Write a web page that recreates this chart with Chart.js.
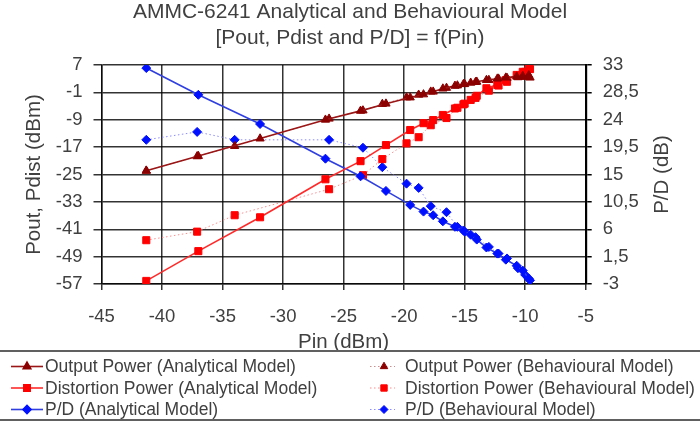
<!DOCTYPE html>
<html lang="en">
<head>
  <meta charset="UTF-8">
  <title>AMMC-6241 Analytical and Behavioural Model</title>
  <style>
    body { margin: 0; background: #fff; }
    #wrap { width: 700px; height: 422px; }
  </style>
  <script src="https://cdn.jsdelivr.net/npm/chart.js"></script>
</head>
<body>
  <div id="wrap"><canvas id="chart" width="700" height="422"></canvas></div>
  <script>
    // Pin (dBm) values of the analytical model points
    const pinAnalytical   = [-41.3, -37.0, -31.9, -26.5, -23.6, -21.5, -19.5, -18.4, -17.6, -16.8, -15.8, -15.1, -14.5, -14.0, -13.2, -12.3, -11.6, -10.7, -10.2, -9.7];
    const poutAnalytical  = [-23.9, -19.6, -14.5, -9.0, -6.4, -4.3, -2.5, -1.6, -0.8, 0.1, 0.9, 1.4, 1.8, 2.1, 2.6, 3.0, 3.3, 3.6, 3.8, 4.0];
    const pdistAnalytical = [-56.1, -47.4, -37.5, -26.4, -21.1, -16.4, -12.0, -10.0, -9.1, -7.6, -5.7, -4.5, -3.2, -2.0, 0.2, 1.2, 2.6, 4.1, 5.0, 6.0];
    const pdAnalytical    = [32.5, 28.1, 23.3, 17.6, 14.7, 12.3, 10.0, 8.9, 8.3, 7.3, 6.4, 5.8, 5.1, 4.3, 3.0, 2.0, 1.0, 0.0, -0.8, -2.1];

    // behavioural model points
    const pinBehavioural   = [-41.3, -37.1, -34.0, -26.2, -23.4, -21.8, -19.8, -18.8, -17.8, -16.5, -15.6, -15.0, -14.1, -13.0, -12.2, -11.5, -10.6, -10.0, -9.6];
    const poutBehavioural  = [-23.9, -19.7, -16.7, -8.7, -6.3, -4.4, -2.5, -1.7, -0.8, 0.3, 1.0, 1.4, 2.0, 2.6, 3.0, 3.2, 3.4, 3.5, 3.3];
    const pdistBehavioural = [-44.2, -41.7, -36.9, -29.3, -25.2, -20.5, -15.9, -14.1, -10.6, -8.5, -5.5, -4.3, -2.6, -0.5, 1.0, 2.1, 3.9, 5.0, 5.8];
    const pdBehavioural    = [20.7, 22.0, 20.7, 20.7, 19.4, 16.2, 13.5, 12.8, 9.8, 8.8, 6.4, 5.6, 4.7, 3.1, 2.0, 1.2, -0.4, -1.5, -2.4];

    const seriesNames = [
      'Output Power (Analytical Model)', 'Distortion Power (Analytical Model)', 'P/D (Analytical Model)',
      'Output Power (Behavioural Model)', 'Distortion Power (Behavioural Model)', 'P/D (Behavioural Model)'
    ];
    const titleLines = ['AMMC-6241 Analytical and Behavioural Model', '[Pout, Pdist and P/D] = f(Pin)'];

    const FONT = "'Liberation Sans', Arial, sans-serif";
    const TEXT = '#404040';
    const GRID = 'rgba(0,0,0,0.8)';

    const pts = (xs, ys) => xs.map((x, i) => ({ x: x, y: ys[i] }));

    function series(label, xs, ys, axis, color, lineColor, style, r, dashed) {
      return {
        label: label,
        data: pts(xs, ys),
        yAxisID: axis,
        showLine: true,
        borderColor: lineColor,
        borderWidth: dashed ? 1 : 1.6,
        borderDash: dashed ? [1.5, 2.5] : [],
        pointStyle: style,
        pointRadius: r,
        pointBackgroundColor: color,
        pointBorderColor: color,
        pointBorderWidth: 1,
        tension: 0
      };
    }

    const datasets = [
      series(seriesNames[0], pinAnalytical, poutAnalytical, 'y', '#8b0000', '#9a1515', 'triangle', 4.8, false),
      series(seriesNames[1], pinAnalytical, pdistAnalytical, 'y', '#ff0000', '#ff2a2a', 'rect', 5, false),
      series(seriesNames[2], pinAnalytical, pdAnalytical, 'y1', '#0010ff', '#2f3fe0', 'rectRot', 4.5, false),
      series(seriesNames[3], pinBehavioural, poutBehavioural, 'y', '#8b0000', '#c89090', 'triangle', 4.8, true),
      series(seriesNames[4], pinBehavioural, pdistBehavioural, 'y', '#ff0000', '#ff8c8c', 'rect', 5, true),
      series(seriesNames[5], pinBehavioural, pdBehavioural, 'y1', '#0010ff', '#8c8cff', 'rectRot', 4.5, true)
    ];

    // legend in a box under the plot, two columns
    const boxLegend = {
      id: 'boxLegend',
      afterDraw(chart) {
        const ctx = chart.ctx;
        ctx.save();
        ctx.strokeStyle = '#606060';
        ctx.lineWidth = 2;
        ctx.setLineDash([]);
        ctx.strokeRect(-2, 351, chart.width + 4, 69);
        const rows = [366.5, 388, 409.5];
        const cols = [{ x0: 11, x1: 43, m: 27, t: 45 }, { x0: 370, x1: 395, m: 384, t: 405 }];
        chart.data.datasets.forEach((ds, i) => {
          const c = cols[i < 3 ? 0 : 1];
          const y = rows[i % 3];
          ctx.strokeStyle = ds.borderColor;
          ctx.lineWidth = ds.borderWidth;
          ctx.setLineDash(ds.borderDash);
          ctx.beginPath();
          ctx.moveTo(c.x0, y);
          ctx.lineTo(c.x1, y);
          ctx.stroke();
          ctx.setLineDash([]);
          ctx.fillStyle = ds.pointBackgroundColor;
          ctx.strokeStyle = ds.pointBorderColor;
          Chart.helpers.drawPoint(ctx, { pointStyle: ds.pointStyle, radius: ds.pointRadius - 0.5, rotation: 0, borderWidth: 1 }, c.m, y);
          ctx.fillStyle = TEXT;
          ctx.font = '17.5px ' + FONT;
          ctx.textBaseline = 'middle';
          ctx.textAlign = 'left';
          ctx.fillText(ds.label, c.t, y + 1);
        });
        // right axis title, reading bottom to top
        const a = chart.chartArea;
        ctx.translate(662, (a.top + a.bottom) / 2);
        ctx.rotate(-Math.PI / 2);
        ctx.font = '20.5px ' + FONT;
        ctx.fillStyle = TEXT;
        ctx.textAlign = 'center';
        ctx.textBaseline = 'middle';
        ctx.fillText('P/D (dB)', 0, 0);
        ctx.restore();
      }
    };

    new Chart(document.getElementById('chart'), {
      type: 'scatter',
      data: { datasets: datasets },
      plugins: [boxLegend],
      options: {
        responsive: false,
        animation: false,
        layout: { padding: { top: 0, bottom: 70, left: 0, right: 0 } },
        plugins: {
          legend: { display: false },
          tooltip: { enabled: false },
          title: {
            display: true,
            text: titleLines,
            color: TEXT,
            font: { family: FONT, size: 21, weight: 'normal', lineHeight: 1.2 },
            padding: { top: 0, bottom: 14.6 }
          }
        },
        scales: {
          x: {
            type: 'linear',
            min: -45, max: -5,
            ticks: { stepSize: 5, color: TEXT, font: { family: FONT, size: 18.5 }, padding: 16 },
            grid: { color: GRID, lineWidth: 1.5, tickLength: 6 },
            border: { color: GRID, width: 1.5 },
            title: { display: true, text: 'Pin (dBm)', color: TEXT, font: { family: FONT, size: 20.5 }, padding: { top: 0, bottom: -3 } },
            afterFit: s => { s.height = 68; }
          },
          y: {
            position: 'left',
            min: -57, max: 7,
            ticks: { stepSize: 8, color: TEXT, font: { family: FONT, size: 18.5 }, padding: 11 },
            grid: { color: GRID, lineWidth: 1.5, tickLength: 8 },
            border: { color: GRID, width: 1.5 },
            title: { display: true, text: 'Pout, Pdist (dBm)', color: TEXT, font: { family: FONT, size: 20.5 }, padding: { top: 22, bottom: 0 } },
            afterFit: s => { s.width = 101.5; }
          },
          y1: {
            position: 'right',
            min: -3, max: 33,
            ticks: {
              stepSize: 4.5, color: TEXT, font: { family: FONT, size: 18.5 }, padding: 11,
              callback: v => String(v).replace('.', ',')
            },
            grid: { drawOnChartArea: false, color: '#000', lineWidth: 1.5, tickLength: 6 },
            border: { color: '#000', width: 2.2 },
            afterFit: s => { s.width = 114.3; }
          }
        }
      }
    });
  </script>
</body>
</html>
